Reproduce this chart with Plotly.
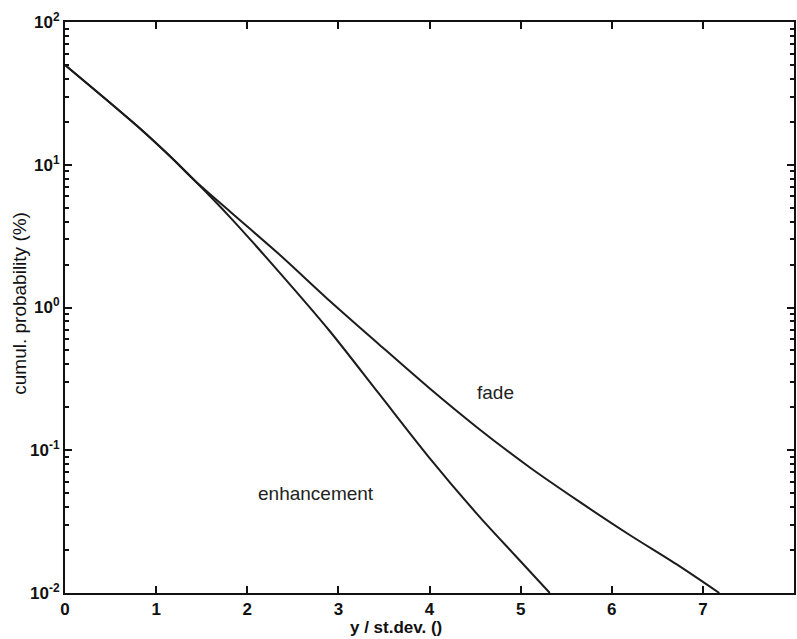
import math
import plotly.graph_objects as go

# ---- data ----
enh_x = [0.0, 0.38, 0.82, 1.15, 1.42, 1.81, 2.35, 2.90, 3.45, 3.99, 4.54, 4.93, 5.32]
enh_y = [50.0, 31.3, 18.0, 11.5, 7.78, 4.3, 1.77, 0.690, 0.247, 0.090, 0.0347, 0.0186, 0.0100]

fade_x = [0.0, 0.38, 0.82, 1.15, 1.42, 1.81, 2.35, 2.90, 3.45, 3.99, 4.54, 5.09, 5.64, 6.18, 6.73, 7.18]
fade_y = [50.0, 31.3, 18.0, 11.5, 7.78, 4.7, 2.36, 1.12, 0.549, 0.275, 0.1415, 0.0766, 0.0438, 0.0259, 0.0156, 0.0100]

x_ticks = [0, 1, 2, 3, 4, 5, 6, 7, 8]
y_ticks = [0.01, 0.1, 1, 10, 100]
y_ticktext = ["10<sup>-2</sup>", "10<sup>-1</sup>", "10<sup>0</sup>", "10<sup>1</sup>", "10<sup>2</sup>"]
y_minor = [m * 10 ** e for e in range(-2, 2) for m in range(2, 10)]

labels = [("fade", 4.72, 0.252), ("enhancement", 2.75, 0.0494)]
x_title = "y / st.dev. ()"
y_title = "cumul. probability (%)"

FONT = "Liberation Sans, Arial, sans-serif"
INK = "#1c1c1c"

fig = go.Figure()
fig.add_trace(go.Scatter(x=enh_x, y=enh_y, mode="lines", name="enhancement",
                         line=dict(color=INK, width=2, shape="spline", smoothing=0.8)))
fig.add_trace(go.Scatter(x=fade_x, y=fade_y, mode="lines", name="fade",
                         line=dict(color=INK, width=2, shape="spline", smoothing=0.8)))

for txt, lx, ly in labels:
    fig.add_annotation(x=lx, y=math.log10(ly), text=txt, showarrow=False,
                       font=dict(family=FONT, size=19, color="#222"))

# axis titles
fig.add_annotation(xref="paper", yref="paper", x=0.454, y=-0.061, text="<b>" + x_title + "</b>",
                   showarrow=False, xanchor="center", yanchor="middle",
                   font=dict(family=FONT, size=17, color="#111"))
fig.add_annotation(xref="paper", yref="paper", x=-0.062, y=0.508, text=y_title, textangle=-90,
                   showarrow=False, xanchor="center", yanchor="middle",
                   font=dict(family=FONT, size=19, color="#111"))

fig.update_layout(
    width=797, height=639,
    margin=dict(l=65, r=1, t=22, b=46),
    paper_bgcolor="white", plot_bgcolor="white",
    showlegend=False,
    font=dict(family=FONT, color="#111"),
)
fig.update_xaxes(
    range=[0, 8], tickvals=x_ticks, ticks="inside", ticklen=7, tickwidth=1.5,
    tickcolor="#111", showline=True, linecolor="#111", linewidth=2, mirror="ticks",
    showgrid=False, zeroline=False,
    tickfont=dict(family=FONT, size=17, color="#111", weight="bold"),
)
fig.update_yaxes(
    type="log", range=[-2, 2], tickvals=y_ticks, ticktext=y_ticktext,
    ticks="inside", ticklen=7, tickwidth=1.5, tickcolor="#111",
    showline=True, linecolor="#111", linewidth=2, mirror="ticks",
    showgrid=False, zeroline=False,
    minor=dict(tickvals=y_minor, ticks="inside", ticklen=4, tickcolor="#111", showgrid=False),
    tickfont=dict(family=FONT, size=17, color="#111", weight="bold"),
)

fig.write_html("out.html")
